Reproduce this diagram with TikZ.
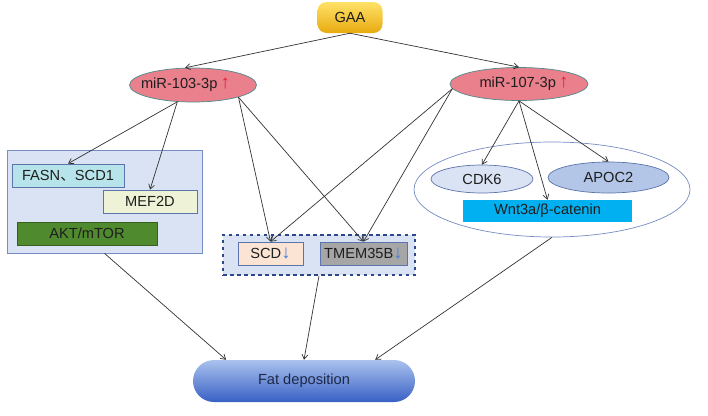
\documentclass[tikz,border=0pt]{standalone}
\usepackage{fontspec}
\setmainfont{Liberation Sans}
\newfontfamily\cjkfont{Noto Sans CJK SC}
\usetikzlibrary{calc,arrows.meta,shapes.geometric}
\definecolor{gaaGold}{RGB}{232,170,16}
\definecolor{gaaGoldLight}{RGB}{255,226,104}
\definecolor{mirPink}{RGB}{233,128,140}
\definecolor{mirEdge}{RGB}{78,138,138}
\definecolor{upRed}{RGB}{228,34,56}
\definecolor{downBlue}{RGB}{72,126,212}
\definecolor{panelBlue}{RGB}{218,227,243}
\definecolor{panelEdge}{RGB}{120,140,196}
\definecolor{boxEdge}{RGB}{92,116,172}
\definecolor{fasnCyan}{RGB}{183,228,234}
\definecolor{mefCream}{RGB}{238,243,216}
\definecolor{aktGreen}{RGB}{80,138,46}
\definecolor{dashNavy}{RGB}{46,70,140}
\definecolor{scdPeach}{RGB}{252,228,212}
\definecolor{tmemGray}{RGB}{166,166,166}
\definecolor{apocBlue}{RGB}{180,198,231}
\definecolor{wntCyan}{RGB}{0,176,240}
\definecolor{fatTop}{RGB}{170,194,238}
\definecolor{fatBottom}{RGB}{56,96,196}
\definecolor{fatInk}{RGB}{30,40,72}
\definecolor{labelInk}{RGB}{30,30,30}
\newcommand{\mirUp}{{\color{upRed}\fontsize{16}{16}\selectfont\,↑}}
\newcommand{\geneDown}{{\color{downBlue}\fontsize{16}{16}\selectfont↓}}
\tikzset{
  lbl/.style={font=\fontsize{12.5}{14}\selectfont, text=labelInk, inner sep=1pt},
  mirell/.style={lbl, ellipse, fill=mirPink, draw=mirEdge, line width=0.6pt, inner sep=0pt},
  genebox/.style={lbl, rectangle, draw=boxEdge, line width=0.6pt, minimum height=0.69cm},
  subell/.style={lbl, ellipse, draw=boxEdge, line width=0.6pt, inner sep=0pt},
  link/.style={draw=black!80, line width=0.6pt, -{Straight Barb[length=4pt,width=5pt]}}
}

\begin{document}
\begin{tikzpicture}[x=0.03cm, y=-0.03cm]
  \useasboundingbox (0,0) rectangle (708,415);

  \node[lbl, rounded corners=0.27cm, top color=gaaGoldLight, bottom color=gaaGold,
    minimum width=1.95cm, minimum height=0.93cm] (gaa) at (350,17.5) {GAA};
  \node[mirell, minimum width=3.81cm, minimum height=1.02cm] (m103) at (193,85)
    {\hspace*{-0.45cm}miR-103-3p\mirUp};
  \node[mirell, minimum width=4.14cm, minimum height=0.99cm] (m107) at (519,84)
    {miR-107-3p\mirUp\hspace*{-0.3cm}};

  \node[fill=panelBlue, draw=panelEdge, line width=0.6pt,
    minimum width=5.85cm, minimum height=3.09cm] (leftpanel) at (104.5,201.5) {};
  \node[genebox, fill=fasnCyan, minimum width=3.36cm] (fasn) at (68,175.5)
    {FASN{\cjkfont 、}SCD1};
  \node[genebox, fill=mefCream, minimum width=2.82cm] (mef) at (150,201.5) {MEF2D};
  \node[genebox, fill=aktGreen, draw=aktGreen!70!black, minimum width=4.2cm] (akt)
    at (87,233.5) {AKT/mTOR};

  \node[fill=panelBlue, draw=dashNavy, dashed, line width=1.3pt,
    minimum width=5.76cm, minimum height=1.2cm] (dashpanel) at (319,255) {};
  \node[genebox, fill=scdPeach, minimum width=1.95cm] (scd) at (270.5,253.5)
    {SCD\geneDown};
  \node[genebox, fill=tmemGray, minimum width=2.61cm] (tmem) at (363.5,253.5)
    {TMEM35B\geneDown};

  \node[ellipse, fill=white, draw=panelEdge, line width=0.6pt,
    minimum width=8.28cm, minimum height=2.85cm] (rightpanel) at (552,189.5) {};
  \node[subell, fill=panelBlue, minimum width=3.06cm, minimum height=0.84cm] (cdk)
    at (482,179) {CDK6};
  \node[subell, fill=apocBlue, minimum width=3.63cm, minimum height=0.93cm] (apoc)
    at (608.5,177.5) {APOC2};
  \node[lbl, fill=wntCyan, minimum width=5.07cm, minimum height=0.66cm] (wnt)
    at (547.5,211) {Wnt3a/β-catenin};

  \node[lbl, text=fatInk, rounded corners=0.63cm, top color=fatTop, bottom color=fatBottom,
    minimum width=6.66cm, minimum height=1.26cm] (fat) at (304,381) {Fat deposition};

  \draw[link] (gaa.south) -- (m103.115);
  \draw[link] (gaa.south) -- (m107.north);
  \draw[link] (m103.227) -- (fasn.north);
  \draw[link] (m103.227) -- (mef.north);
  \draw[link] (m103.-15) -- (scd.north);
  \draw[link] (m103.-15) -- (tmem.north);
  \draw[link] (m107.184) -- (scd.north);
  \draw[link] (m107.184) -- (tmem.north);
  \draw[link] (m107.south) -- (cdk.north);
  \draw[link] (m107.south) -- (wnt.north);
  \draw[link] (m107.south) -- (apoc.north);
  \draw[link] (leftpanel.south) -- ($(fat.north west)!0.15!(fat.north east)$);
  \draw[link] (dashpanel.south) -- (fat.north);
  \draw[link] (rightpanel.south) -- ($(fat.north west)!0.82!(fat.north east)$);
\end{tikzpicture}
\end{document}
